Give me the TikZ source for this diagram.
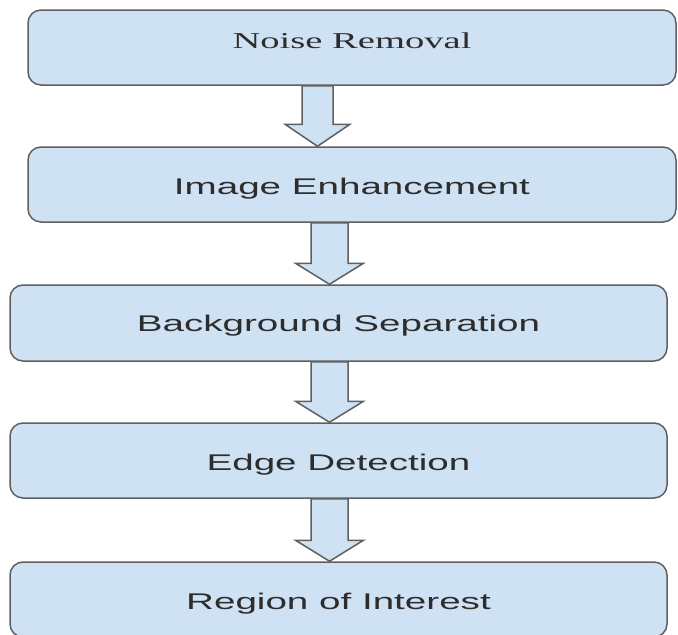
\documentclass[tikz,border=0pt]{standalone}
\usepackage{fontspec}
\setmainfont{Liberation Serif}
\newfontfamily\arialish{Liberation Sans}
\usetikzlibrary{calc}
\definecolor{boxfill}{RGB}{207,226,243}
\definecolor{boxline}{RGB}{95,95,95}
\definecolor{txtcol}{RGB}{45,45,45}
\tikzset{
  stepbox/.style={draw=boxline, fill=boxfill, line width=1.5pt, rounded corners=13pt,
    inner sep=0pt, text=txtcol, text depth=0pt, text height=19pt},
  fatarrow/.style={draw=boxline, fill=boxfill, line width=1.5pt, line join=miter},
}
\newcommand\sanslbl[1]{\arialish\fontsize{22.7}{26}\selectfont\scalebox{1.70}[1]{#1}}
\newcommand\seriflbl[1]{\fontsize{22.7}{26}\selectfont\scalebox{1.70}[1]{#1}}
\newcommand\fatdown[6]{% from, to, cx, shaft half, head half, head length
  \path[fatarrow] let \p1=(#1.south), \p2=(#2.north) in
    ({#3pt-#4pt},\y1) -- ({#3pt-#4pt},{\y2+#6pt}) -- ({#3pt-#5pt},{\y2+#6pt})
    -- (#3pt,\y2) -- ({#3pt+#5pt},{\y2+#6pt}) -- ({#3pt+#4pt},{\y2+#6pt})
    -- ({#3pt+#4pt},\y1) -- cycle;}
\begin{document}
\begin{tikzpicture}[x=1pt,y=-1pt]
\useasboundingbox (0,0) rectangle (678,635);
\clip (0,0) rectangle (678,635);
\node[stepbox, minimum width=648pt, minimum height=75pt, text height=1.6pt] (b1) at (352,47.5) {\seriflbl{Noise Removal}};
\node[stepbox, minimum width=648pt, minimum height=75pt] (b2) at (352,184.5) {\sanslbl{Image Enhancement}};
\node[stepbox, minimum width=657pt, minimum height=76pt, text height=16pt] (b3) at (338.5,323) {\sanslbl{Background Separation}};
\node[stepbox, minimum width=657pt, minimum height=75pt] (b4) at (338.5,460.5) {\sanslbl{Edge Detection}};
\node[stepbox, minimum width=657pt, minimum height=75pt] (b5) at (338.5,599.5) {\sanslbl{Region of Interest}};
\fatdown{b1}{b2}{317.5}{15.5}{32.5}{22}
\fatdown{b2}{b3}{329.5}{18.5}{34}{21}
\fatdown{b3}{b4}{329.5}{18.5}{34}{21}
\fatdown{b4}{b5}{329.5}{18.5}{34}{21}
\end{tikzpicture}
\end{document}
